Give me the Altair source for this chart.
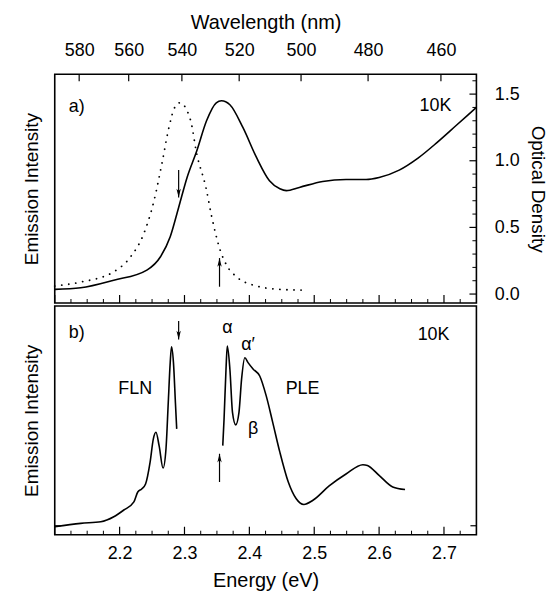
import altair as alt
import pandas as pd

# ---------------- data ----------------
# panel a: optical density (solid)
abs_E = [2.100, 2.140, 2.191, 2.242, 2.263, 2.278, 2.291, 2.304, 2.319, 2.334, 2.349, 2.357,
         2.370, 2.390, 2.411, 2.431, 2.447, 2.457, 2.477, 2.513, 2.549, 2.580, 2.600, 2.631,
         2.660, 2.690, 2.720, 2.750]
abs_OD = [0.035, 0.047, 0.104, 0.180, 0.280, 0.430, 0.650, 0.875, 1.075, 1.300, 1.435, 1.450,
          1.420, 1.250, 1.025, 0.850, 0.790, 0.776, 0.800, 0.845, 0.860, 0.860, 0.875, 0.930,
          1.020, 1.140, 1.270, 1.400]
# panel a: emission (dotted)
em_E = [2.100, 2.140, 2.191, 2.217, 2.237, 2.253, 2.266, 2.276, 2.286, 2.293, 2.309, 2.319,
        2.333, 2.342, 2.355, 2.365, 2.380, 2.406, 2.447, 2.480]
em_I = [0.060, 0.090, 0.167, 0.280, 0.450, 0.700, 1.000, 1.250, 1.410, 1.435, 1.310, 1.050,
        0.800, 0.580, 0.330, 0.216, 0.130, 0.067, 0.035, 0.030]

# panel b: FLN
fln_E = [2.100, 2.140, 2.171, 2.191, 2.206, 2.222, 2.228, 2.234, 2.240, 2.247, 2.252, 2.256,
         2.261, 2.267, 2.2715, 2.275, 2.278, 2.280, 2.283, 2.286, 2.288]
fln_I = [-0.005, 0.012, 0.020, 0.045, 0.078, 0.120, 0.170, 0.185, 0.210, 0.320, 0.437, 0.470,
         0.400, 0.290, 0.387, 0.620, 0.820, 0.900, 0.820, 0.620, 0.487]
# panel b: PLE
ple_E = [2.359, 2.361, 2.364, 2.366, 2.370, 2.374, 2.379, 2.384, 2.388, 2.393, 2.398, 2.406,
         2.416, 2.426, 2.436, 2.447, 2.460, 2.472, 2.484, 2.498, 2.523, 2.549, 2.575, 2.582,
         2.600, 2.621, 2.640]
ple_I = [0.403, 0.537, 0.787, 0.903, 0.787, 0.570, 0.507, 0.570, 0.737, 0.845, 0.820, 0.787,
         0.753, 0.653, 0.520, 0.370, 0.220, 0.137, 0.107, 0.128, 0.200, 0.260, 0.307, 0.303,
         0.253, 0.195, 0.182]

# axis values
wl_ticks = [580, 560, 540, 520, 500, 480, 460]
wl_E = [1239.84 / w for w in wl_ticks]
od_ticks = [0.0, 0.5, 1.0, 1.5]
od_minor = [0.1, 0.2, 0.3, 0.4, 0.6, 0.7, 0.8, 0.9, 1.1, 1.2, 1.3, 1.4, 1.6]
e_labels = [2.2, 2.3, 2.4, 2.5, 2.6, 2.7]
e_major = [2.1] + e_labels
e_minor = [round(2.1 + 0.025 * i, 3) for i in range(1, 26) if i % 4 != 0]

# arrows (x, start, tip)
arrows_a = pd.DataFrame({"E": [2.291, 2.354], "y0": [0.93, 0.055], "y1": [0.725, 0.27],
                         "dir": ["down", "up"]})
arrows_b = pd.DataFrame({"E": [2.291, 2.354], "y0": [1.03, 0.22], "y1": [0.937, 0.362],
                         "dir": ["down", "up"]})

# annotations
ann_a = pd.DataFrame({"E": [2.134, 2.687], "y": [1.40, 1.41], "t": ["a)", "10K"]})
ann_b = pd.DataFrame({"E": [2.134, 2.684, 2.224, 2.482, 2.366, 2.398, 2.406],
                      "y": [0.97, 0.96, 0.685, 0.685, 0.995, 0.91, 0.487],
                      "t": ["b)", "10K", "FLN", "PLE", "α", "α′", "β"]})

# ---------------- chart ----------------
W, H = 424, 230
FONT = "Liberation Sans"
xs = alt.Scale(domain=[2.1, 2.75], nice=False, zero=False)
ys_a = alt.Scale(domain=[-0.067, 1.649], nice=False, zero=False)
ys_b = alt.Scale(domain=[-0.045, 1.105], nice=False, zero=False)

DOWN = "M0,0L-0.55,-2.2L0,-1.6L0.55,-2.2Z"
UP = "M0,0L-0.55,2.2L0,1.6L0.55,2.2Z"


def xq(field="E", axis=None):
    return alt.X(f"{field}:Q", scale=xs, axis=axis, title=None)


def arrow_layers(df, ys):
    shaft = alt.Chart(df).mark_rule(color="black", strokeWidth=1.2).encode(
        x=xq(), y=alt.Y("y0:Q", scale=ys, axis=None), y2="y1:Q")
    down = alt.Chart(df[df["dir"] == "down"]).mark_point(
        shape=DOWN, filled=True, color="black", size=64, opacity=1, strokeWidth=0).encode(
        x=xq(), y=alt.Y("y1:Q", scale=ys, axis=None))
    up = alt.Chart(df[df["dir"] == "up"]).mark_point(
        shape=UP, filled=True, color="black", size=64, opacity=1, strokeWidth=0).encode(
        x=xq(), y=alt.Y("y1:Q", scale=ys, axis=None))
    return [shaft, down, up]


def xticks_bottom(ys):
    maj = alt.Chart(pd.DataFrame({"E": e_major})).mark_rule(color="black", strokeWidth=1.2).encode(
        x=xq(), y=alt.value(H), y2=alt.value(H - 8))
    mnr = alt.Chart(pd.DataFrame({"E": e_minor})).mark_rule(color="black", strokeWidth=1).encode(
        x=xq(), y=alt.value(H), y2=alt.value(H - 4))
    return [maj, mnr]


# ---- panel a ----
a_abs = alt.Chart(pd.DataFrame({"E": abs_E, "v": abs_OD})).mark_line(
    color="black", strokeWidth=1.6, interpolate="monotone").encode(
    x=xq(axis=alt.Axis(orient="top", values=wl_E, labelExpr="format(1239.84/datum.value, '.0f')",
                       title="Wavelength (nm)", titleFontSize=20, ticks=False, tickSize=0,
                       labelPadding=15, titlePadding=9, domain=False, grid=False,
                       labelFlush=False)),
    y=alt.Y("v:Q", scale=ys_a,
            axis=alt.Axis(orient="right", values=od_ticks, format=".1f", title="Optical Density",
                          ticks=False, tickSize=0, labelPadding=18, titlePadding=8,
                          domain=False, grid=False)))
a_em = alt.Chart(pd.DataFrame({"E": em_E, "v": em_I})).mark_line(
    color="black", strokeWidth=1.8, strokeDash=[0.1, 7], strokeCap="round",
    interpolate="monotone").encode(
    x=xq(),
    y=alt.Y("v:Q", scale=ys_a,
            axis=alt.Axis(orient="left", labels=False, ticks=False, tickSize=0, domain=False,
                          grid=False, title="Emission Intensity", titlePadding=13)))
a_wlt = alt.Chart(pd.DataFrame({"E": wl_E})).mark_rule(color="black", strokeWidth=1.2).encode(
    x=xq(), y=alt.value(0), y2=alt.value(7))
a_odt = alt.Chart(pd.DataFrame({"v": od_ticks})).mark_rule(color="black", strokeWidth=1.2).encode(
    y=alt.Y("v:Q", scale=ys_a, axis=None), x=alt.value(W), x2=alt.value(W - 7))
a_odm = alt.Chart(pd.DataFrame({"v": od_minor})).mark_rule(color="black", strokeWidth=1).encode(
    y=alt.Y("v:Q", scale=ys_a, axis=None), x=alt.value(W), x2=alt.value(W - 4))
a_txt = alt.Chart(ann_a).mark_text(font=FONT, fontSize=18, color="black").encode(
    x=xq(), y=alt.Y("y:Q", scale=ys_a, axis=None), text="t:N")

top = alt.layer(a_abs, a_em, a_wlt, a_odt, a_odm, *xticks_bottom(ys_a),
                *arrow_layers(arrows_a, ys_a), a_txt).resolve_axis(
    x="independent", y="independent").properties(width=W, height=H)

# ---- panel b ----
b_fln = alt.Chart(pd.DataFrame({"E": fln_E, "v": fln_I})).mark_line(
    color="black", strokeWidth=1.6, interpolate="monotone").encode(
    x=xq(axis=alt.Axis(orient="bottom", values=e_labels, format=".1f", title="Energy (eV)",
                       titleFontSize=20, ticks=False, tickSize=0, labelPadding=10,
                       titlePadding=8, domain=False, grid=False, labelFlush=False)),
    y=alt.Y("v:Q", scale=ys_b,
            axis=alt.Axis(orient="left", labels=False, ticks=False, tickSize=0, domain=False,
                          grid=False, title="Emission Intensity", titlePadding=13)))
b_ple = alt.Chart(pd.DataFrame({"E": ple_E, "v": ple_I})).mark_line(
    color="black", strokeWidth=1.6, interpolate="monotone").encode(
    x=xq(), y=alt.Y("v:Q", scale=ys_b, axis=None))
b_zl = alt.Chart(pd.DataFrame({"v": [0.0]})).mark_rule(color="black", strokeWidth=1.2).encode(
    y=alt.Y("v:Q", scale=ys_b, axis=None), x=alt.value(0), x2=alt.value(6))
b_zr = alt.Chart(pd.DataFrame({"v": [0.0]})).mark_rule(color="black", strokeWidth=1.2).encode(
    y=alt.Y("v:Q", scale=ys_b, axis=None), x=alt.value(W), x2=alt.value(W - 6))
b_txt = alt.Chart(ann_b).mark_text(font=FONT, fontSize=18, color="black").encode(
    x=xq(), y=alt.Y("y:Q", scale=ys_b, axis=None), text="t:N")

bottom = alt.layer(b_fln, b_ple, b_zl, b_zr, *xticks_bottom(ys_b),
                   *arrow_layers(arrows_b, ys_b), b_txt).resolve_axis(
    x="independent", y="independent").properties(width=W, height=H)

chart = alt.vconcat(top, bottom, spacing=0).properties(
    padding={"left": 14, "top": 2, "right": 4, "bottom": 0}
).configure_axis(
    labelFont=FONT, labelFontSize=18, titleFont=FONT, titleFontSize=19,
    titleFontWeight="normal", labelColor="black", titleColor="black"
).configure_view(stroke="black", strokeWidth=1.6)

chart.save("out.html", embed_options={"renderer": "svg", "actions": False})
